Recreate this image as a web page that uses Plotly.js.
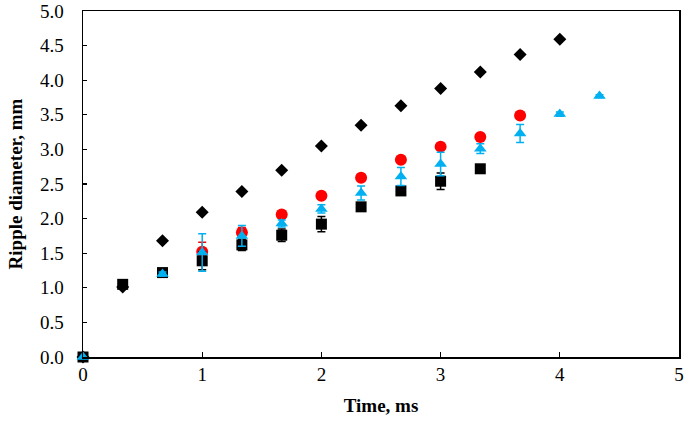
<!DOCTYPE html>
<html>
<head>
<meta charset="utf-8">
<script src="https://cdn.plot.ly/plotly-3.0.1.min.js"></script>
<style>
  html, body { margin: 0; padding: 0; background: #fff; }
  #chart { width: 686px; height: 422px; }
</style>
</head>
<body>
<div id="chart"></div>
<script>
// black diamonds
const diamondX = [0, 0.333, 0.667, 1, 1.333, 1.667, 2, 2.333, 2.667, 3, 3.333, 3.667, 4];
const diamondY = [0, 1.01, 1.68, 2.09, 2.39, 2.70, 3.05, 3.35, 3.63, 3.88, 4.12, 4.37, 4.59];

// red circles
const circleX = [1, 1.333, 1.667, 2, 2.333, 2.667, 3, 3.333, 3.667];
const circleY = [1.52, 1.80, 2.06, 2.33, 2.59, 2.85, 3.04, 3.18, 3.49];
const circleErr = [0.14, 0.07, 0, 0, 0, 0, 0, 0, 0];

// black squares
const squareX = [0, 0.333, 0.667, 1, 1.333, 1.667, 2, 2.333, 2.667, 3, 3.333];
const squareY = [0, 1.05, 1.22, 1.39, 1.62, 1.76, 1.92, 2.17, 2.40, 2.54, 2.72];
const squareErr = [0, 0, 0, 0.13, 0.08, 0.09, 0.11, 0.06, 0.04, 0.12, 0.03];

// blue triangles
const triX = [0, 0.667, 1, 1.333, 1.667, 2, 2.333, 2.667, 3, 3.333, 3.667, 4, 4.333];
const triY = [0, 1.20, 1.51, 1.75, 1.93, 2.14, 2.37, 2.61, 2.79, 3.01, 3.23, 3.51, 3.77];
const triErr = [0, 0.03, 0.27, 0.15, 0.05, 0.06, 0.10, 0.13, 0.17, 0.07, 0.13, 0.03, 0.02];

const blue = '#00b0f0';

const traces = [
  {
    x: diamondX, y: diamondY,
    type: 'scatter', mode: 'markers', cliponaxis: false,
    marker: { symbol: 'diamond', size: 10, color: '#000' }
  },
  {
    x: circleX, y: circleY,
    type: 'scatter', mode: 'markers', cliponaxis: false,
    marker: { symbol: 'circle', size: 12, color: '#ff0000' },
    error_y: { type: 'data', array: circleErr, color: '#ff0000', thickness: 1.5, width: 4 }
  },
  {
    x: squareX, y: squareY,
    type: 'scatter', mode: 'markers', cliponaxis: false,
    marker: { symbol: 'square', size: 11, color: '#000' },
    error_y: { type: 'data', array: squareErr, color: '#000', thickness: 1.5, width: 4 }
  },
  {
    x: triX, y: triY,
    type: 'scatter', mode: 'markers', cliponaxis: false,
    marker: { symbol: 'triangle-up', size: 11, color: blue },
    error_y: { type: 'data', array: triErr, color: blue, thickness: 1.5, width: 4 }
  }
];

const font = { family: '"Liberation Serif", "Times New Roman", serif', color: '#000' };

const layout = {
  width: 686,
  height: 422,
  margin: { l: 83, r: 7, t: 11, b: 65 },
  paper_bgcolor: '#fff',
  plot_bgcolor: '#fff',
  showlegend: false,
  font: Object.assign({ size: 19 }, font),
  xaxis: {
    range: [0, 5],
    dtick: 1,
    showgrid: false,
    zeroline: false,
    showline: true, mirror: true, linecolor: '#000', linewidth: 1.5,
    ticks: 'inside', ticklen: 5, tickwidth: 1.2, tickcolor: '#000',
    tickfont: Object.assign({ size: 19 }, font),
    title: { text: '<b>Time, ms</b>', font: Object.assign({ size: 19 }, font), standoff: 14 }
  },
  yaxis: {
    range: [0, 5],
    dtick: 0.5,
    tickformat: '.1f',
    showgrid: false,
    zeroline: false,
    showline: true, mirror: true, linecolor: '#000', linewidth: 1.5,
    ticks: 'inside', ticklen: 4, tickwidth: 1.2, tickcolor: '#000',
    ticklabelstandoff: 14,
    tickfont: Object.assign({ size: 19 }, font),
    title: { text: '<b>Ripple diameter, mm</b>', font: Object.assign({ size: 19 }, font), standoff: 12 }
  }
};

Plotly.newPlot('chart', traces, layout, { staticPlot: true, displayModeBar: false });
</script>
</body>
</html>
